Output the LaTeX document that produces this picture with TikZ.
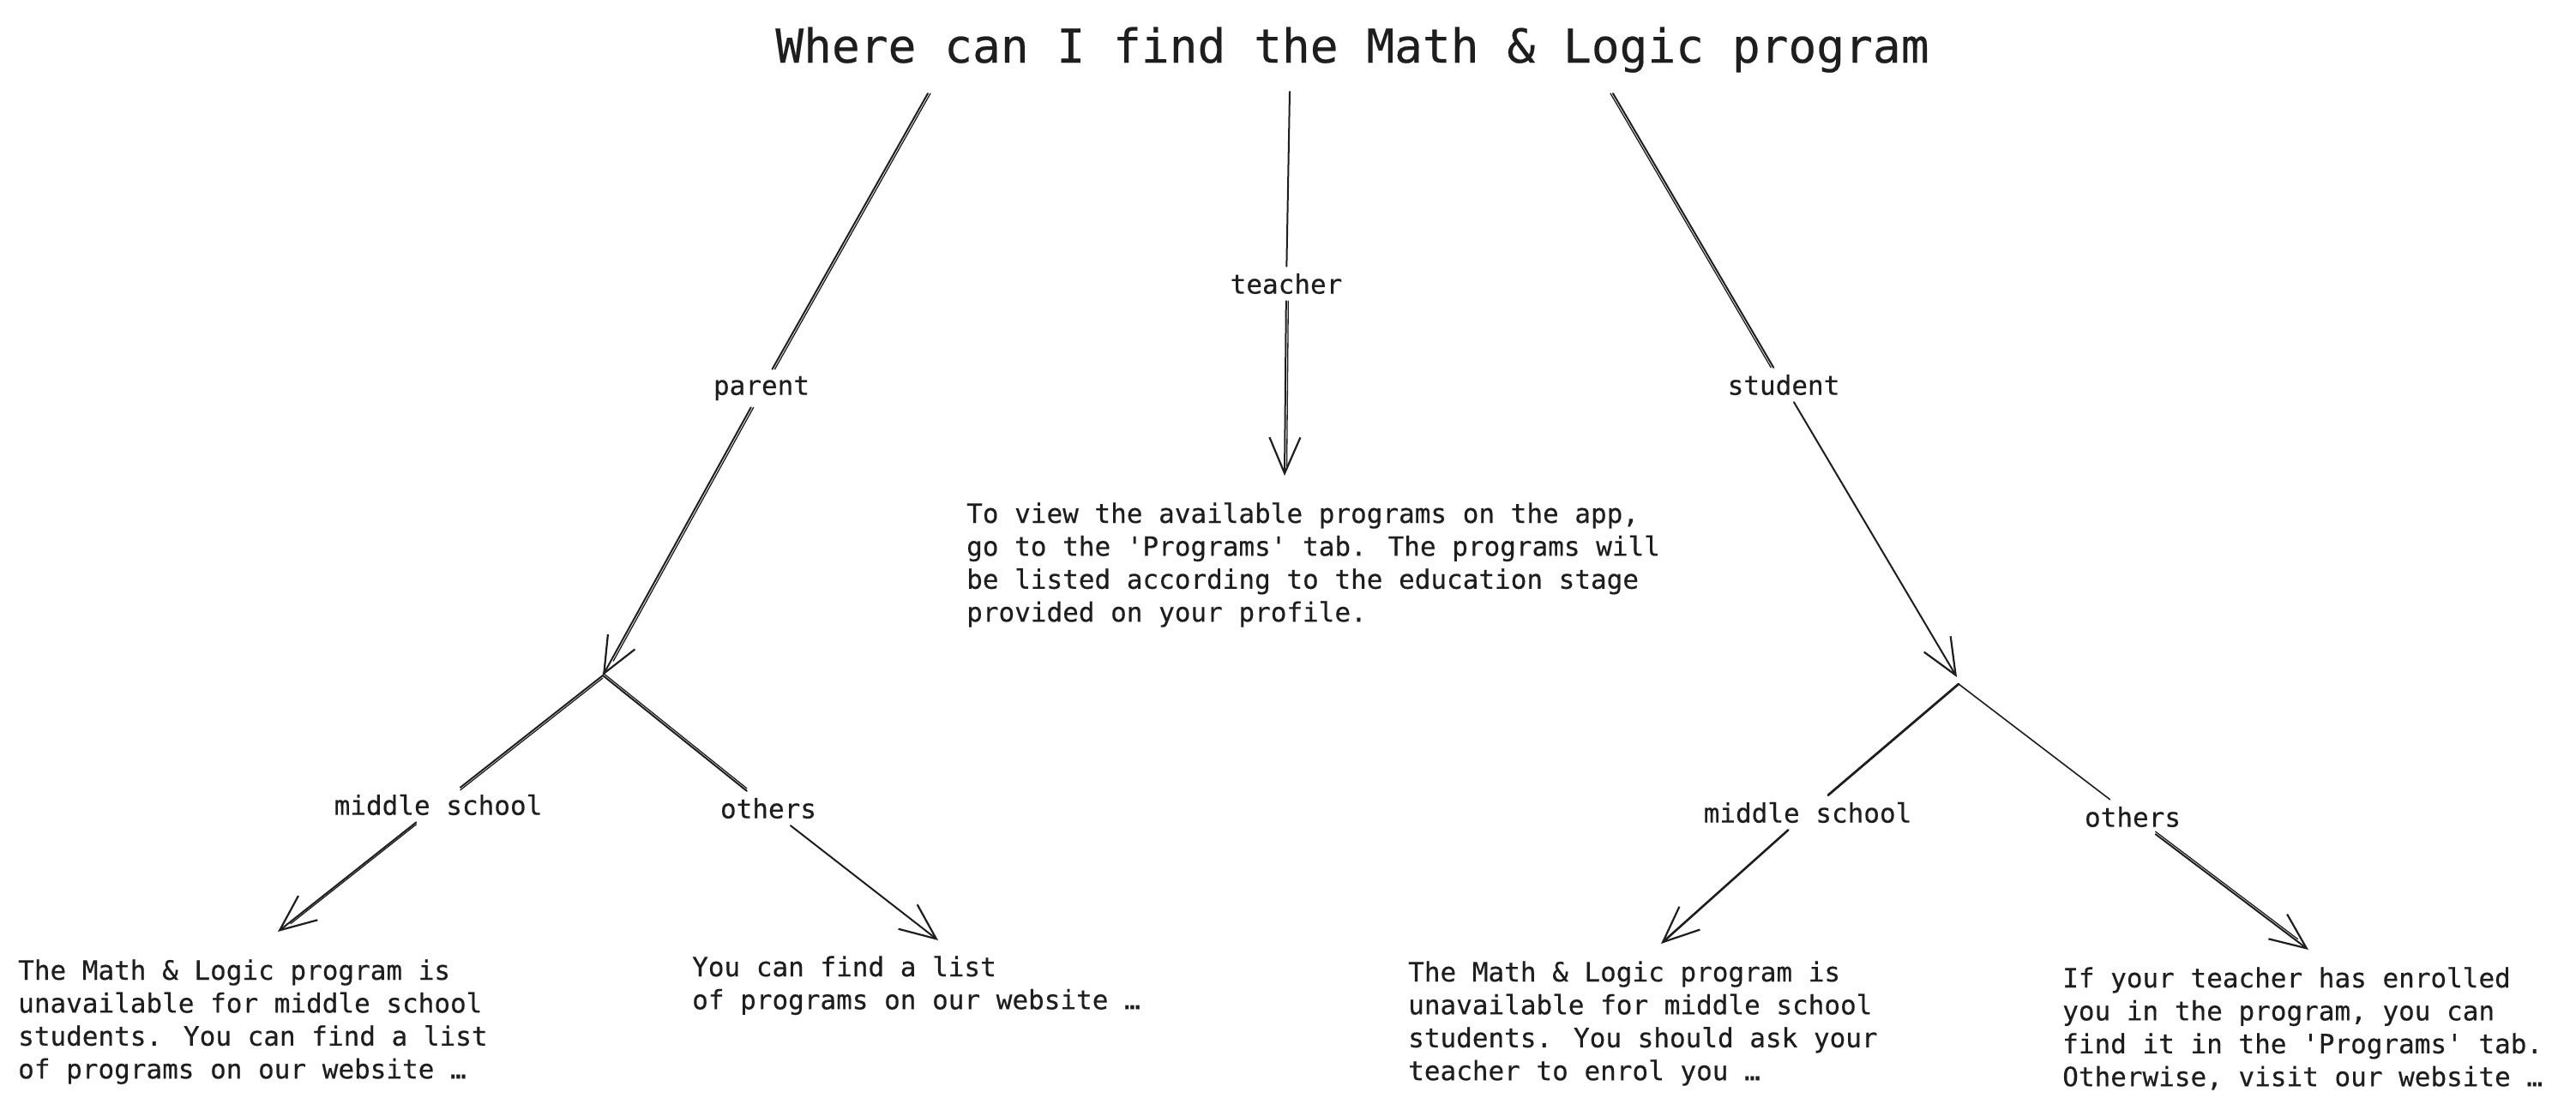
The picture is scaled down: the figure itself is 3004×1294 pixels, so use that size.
\documentclass[tikz,border=0pt]{standalone}
\usepackage{fontspec}
\newfontfamily\monof[FakeBold=0.35]{DejaVu Sans Mono}
\usetikzlibrary{arrows.meta,calc}
\definecolor{ink}{HTML}{1E1E1E}
\newcommand\blk[1]{\vtop{\baselineskip=38.4pt\relax #1}}
\begin{document}
\begin{tikzpicture}[x=1pt,y=-1pt,
  ln/.style={draw=ink,line width=2pt,line cap=round},
  lnt/.style={ln,-{Straight Barb[length=42pt,width=36pt,line width=2.2pt]}},
  dup/.style={draw=ink,line width=1.3pt,line cap=round,transform canvas={shift={#1}}},
  lbl/.style={font=\monof\fontsize{31}{38}\selectfont,text=ink,inner sep=8pt},
  body/.style={font=\monof\fontsize{31}{38}\selectfont,text=ink,inner sep=0pt,anchor=base west},
]
\useasboundingbox[fill=white] (0,0) rectangle (3004,1294);

% title
\node[font=\monof\fontsize{54.5}{60}\selectfont,text=ink,anchor=base,inner sep=0pt] (title) at (1577,73) {Where can I find the Math \& Logic program};

% coordinates
\coordinate (pS) at (1082,109);
\coordinate (tS) at (1504,107);
\coordinate (sS) at (1881,109);
\coordinate (pT) at (703,788);
\coordinate (tT) at (1498,555);
\coordinate (sT) at (2282,790);
\coordinate (sB) at (2284,798);
\coordinate (eML) at (324,1087);
\coordinate (eOL) at (1094,1097);
\coordinate (eMR) at (1937,1101);
\coordinate (eOR) at (2692,1108);

% labels
\node[lbl] (lP) at (888,453) {parent};
\node[lbl] (lT) at (1500,331) {teacher};
\node[lbl] (lS) at (2080,449) {student};
\node[lbl] (lML) at (511,939) {middle school};
\node[lbl] (lOL) at (896,943) {others};
\node[lbl] (lMR) at (2108,948) {middle school};
\node[lbl] (lOR) at (2487,953) {others};

% texts
\node[body] (xT) at (1127,610) {\blk{\hbox{To view the available programs on the app,}\hbox{go to the 'Programs' tab. The programs will}\hbox{be listed according to the education stage}\hbox{provided on your profile.}}};
\node[body] (xML) at (21,1143) {\blk{\hbox{The Math \& Logic program is}\hbox{unavailable for middle school}\hbox{students. You can find a list}\hbox{of programs on our website …}}};
\node[body] (xOL) at (807,1139) {\blk{\hbox{You can find a list}\hbox{of programs on our website …}}};
\node[body] (xMR) at (1642,1145) {\blk{\hbox{The Math \& Logic program is}\hbox{unavailable for middle school}\hbox{students. You should ask your}\hbox{teacher to enrol you …}}};
\node[body] (xOR) at (2405,1152) {\blk{\hbox{If your teacher has enrolled}\hbox{you in the program, you can}\hbox{find it in the 'Programs' tab.}\hbox{Otherwise, visit our website …}}};

% parent branch
\draw[ln] (pS) -- (lP);
\draw[dup={(3pt,0pt)}] (pS) -- (lP);
\draw[lnt] (lP) -- (pT);
\draw[dup={(3pt,0pt)}] (lP) -- ($(pT)!0.05!(lP)$);
% teacher branch
\draw[ln] (tS) -- (lT);
\draw[lnt] (lT) -- (tT);
\draw[dup={(2.5pt,0pt)}] (lT) -- ($(tT)!0.05!(lT)$);
% student branch
\draw[ln] (sS) -- (lS);
\draw[dup={(-3pt,0pt)}] (sS) -- (lS);
\draw[lnt] (lS) -- (sT);

% parent sub-branches
\draw[ln] (pT) -- (lML);
\draw[dup={(0pt,-3pt)}] (pT) -- (lML);
\draw[lnt] (lML) -- (eML);
\draw[dup={(0pt,-2.5pt)}] (lML) -- ($(eML)!0.08!(lML)$);
\draw[ln] (pT) -- (lOL);
\draw[dup={(0pt,3pt)}] (pT) -- (lOL);
\draw[lnt] (lOL) -- (eOL);

% student sub-branches
\draw[ln,line width=2.8pt] (sB) -- (lMR);
\draw[lnt,line width=2.6pt] (lMR) -- (eMR);
\draw[ln,line width=1.6pt] (sB) -- (lOR);
\draw[lnt] (lOR) -- (eOR);
\draw[dup={(0pt,3pt)}] (lOR) -- ($(eOR)!0.06!(lOR)$);
\end{tikzpicture}
\end{document}
